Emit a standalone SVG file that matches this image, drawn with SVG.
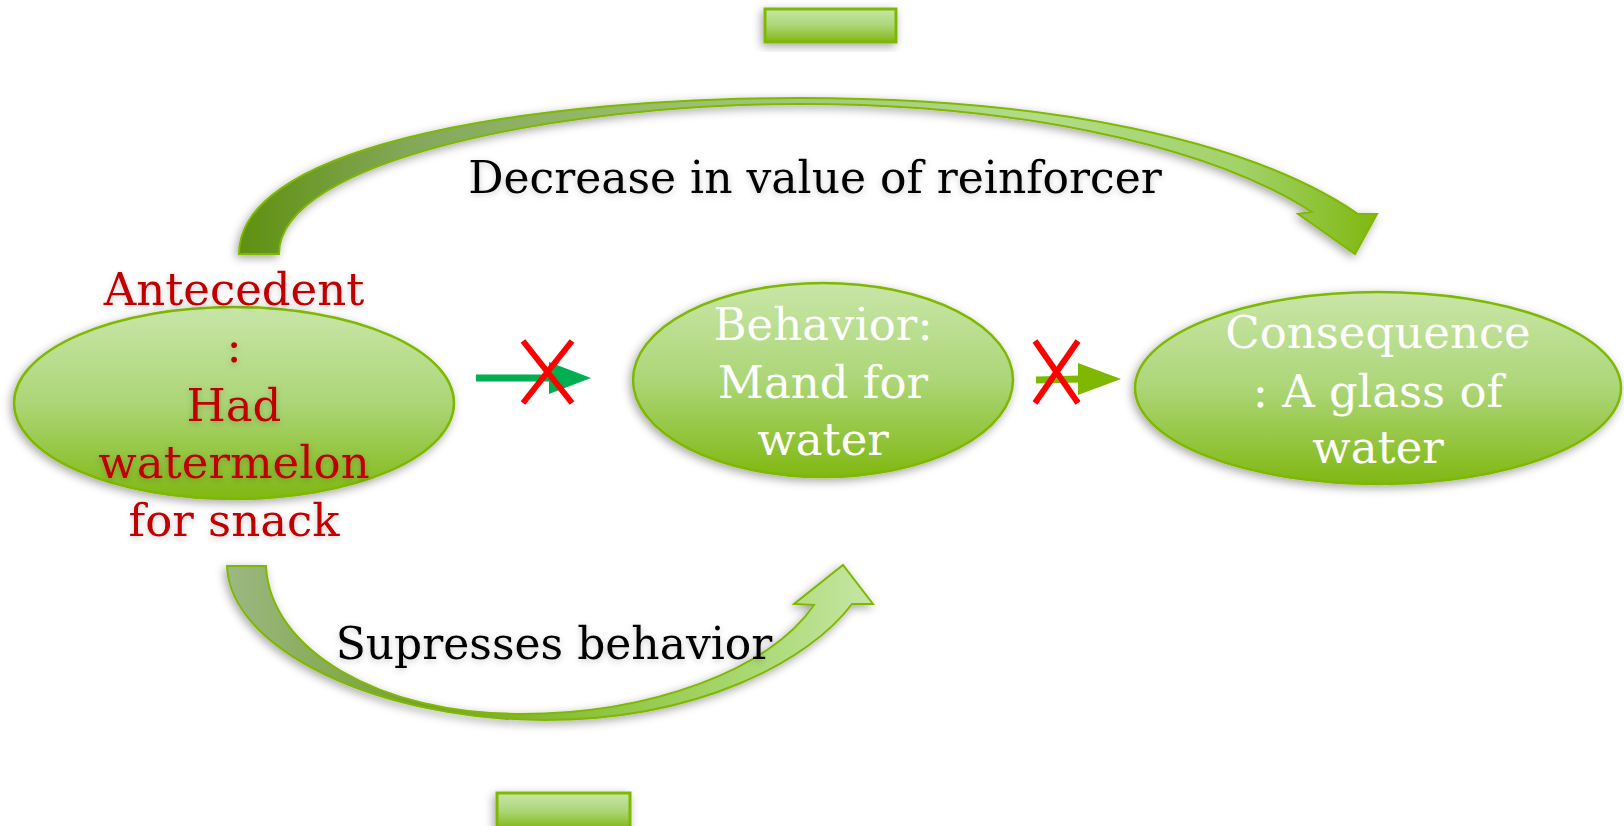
<svg xmlns="http://www.w3.org/2000/svg" width="1624" height="826" viewBox="0 0 1624 826">
<defs>
  <linearGradient id="gNode" x1="0" y1="0" x2="0" y2="1">
    <stop offset="0" stop-color="#c8e6a8"/>
    <stop offset="0.5" stop-color="#acd677"/>
    <stop offset="1" stop-color="#80b812"/>
  </linearGradient>
  <linearGradient id="gTop" gradientUnits="userSpaceOnUse" x1="239" y1="254" x2="1377" y2="254">
    <stop offset="0" stop-color="#5f9010"/>
    <stop offset="0.15" stop-color="#84a85a"/>
    <stop offset="0.35" stop-color="#96bc6c"/>
    <stop offset="0.7" stop-color="#b3dc8a"/>
    <stop offset="0.88" stop-color="#a2d26a"/>
    <stop offset="1" stop-color="#80b810"/>
  </linearGradient>
  <linearGradient id="gBot" gradientUnits="userSpaceOnUse" x1="227" y1="566" x2="873" y2="566">
    <stop offset="0" stop-color="#9cb884"/>
    <stop offset="0.3" stop-color="#74a02c"/>
    <stop offset="0.55" stop-color="#8cc23c"/>
    <stop offset="0.8" stop-color="#a8d870"/>
    <stop offset="1" stop-color="#c6e6a4"/>
  </linearGradient>
  <filter id="sh" x="-20%" y="-20%" width="140%" height="150%">
    <feDropShadow dx="-2" dy="3" stdDeviation="5" flood-color="#000" flood-opacity="0.35"/>
  </filter>
  <filter id="tsh" x="-10%" y="-30%" width="120%" height="160%">
    <feDropShadow dx="0" dy="2" stdDeviation="3" flood-color="#000" flood-opacity="0.2"/>
  </filter>
</defs>
<style>
  .node { fill: url(#gNode); stroke: #7fb800; stroke-width: 2.5; filter: url(#sh); }
  .box { fill: url(#gNode); stroke: #7fb800; stroke-width: 3; filter: url(#sh); }
  .t { font-family: "DejaVu Serif", "Liberation Serif", serif; font-size: 45px; text-anchor: middle; }
  .red { fill: #c00000; filter: url(#tsh); }
  .wht { fill: #ffffff; }
  .lbl { font-family: "DejaVu Serif", "Liberation Serif", serif; font-size: 44px; text-anchor: middle; fill: #000000; filter: url(#tsh); }
  .curve { stroke: #7fb800; stroke-width: 2; filter: url(#sh); }
  .x { stroke: #ff0000; stroke-width: 6; fill: none; }
</style>

<g id="connectors">
  <path class="curve" fill="url(#gTop)" d="M239,254 C239,140 550,98 800,98 C1050,98 1250,140 1358,214 L1377,214 L1355,254 L1298,214 L1312,212 C1200,140 1000,104 800,104 C560,104 279,160 279,254 Z"/>
  <path class="curve" fill="url(#gBot)" d="M227,566 C230,650 380,720 544,720 C700,720 810,660 852,604 L873,604 L843,565 L794,604 L814,605 C770,670 650,714 520,714 C380,714 270,650 266,566 Z"/>
  <text class="lbl" x="815" y="193">Decrease in value of reinforcer</text>
  <text class="lbl" x="554" y="659">Supresses behavior</text>
  <g id="arrow-ab">
    <line x1="476" y1="378" x2="552" y2="378" stroke="#00b050" stroke-width="7"/>
    <polygon points="549,362 591,378 549,394" fill="#00b050"/>
    <line class="x" x1="523" y1="341" x2="572" y2="403"/>
    <line class="x" x1="572" y1="341" x2="523" y2="403"/>
  </g>
  <g id="arrow-bc">
    <line x1="1036" y1="380" x2="1081" y2="379" stroke="#7fb800" stroke-width="7"/>
    <polygon points="1078,363 1121,379 1078,395" fill="#7fb800"/>
    <line class="x" x1="1035" y1="341" x2="1078" y2="403"/>
    <line class="x" x1="1078" y1="341" x2="1035" y2="403"/>
  </g>
</g>

<g id="box-top">
  <rect class="box" x="765" y="9" width="131" height="33"/>
</g>
<g id="box-bottom">
  <rect class="box" x="497" y="793" width="133" height="36"/>
</g>

<g id="node-antecedent">
  <ellipse class="node" cx="234" cy="403" rx="220" ry="96"/>
  <text class="t red" x="234" y="305">Antecedent</text>
  <text class="t red" x="234" y="362">:</text>
  <text class="t red" x="234" y="421">Had</text>
  <text class="t red" x="234" y="478">watermelon</text>
  <text class="t red" x="234" y="536">for snack</text>
</g>

<g id="node-behavior">
  <ellipse class="node" cx="823" cy="380" rx="190" ry="97"/>
  <text class="t wht" x="823" y="340">Behavior:</text>
  <text class="t wht" x="823" y="398">Mand for</text>
  <text class="t wht" x="823" y="455">water</text>
</g>

<g id="node-consequence">
  <ellipse class="node" cx="1378" cy="388" rx="243" ry="96"/>
  <text class="t wht" x="1378" y="348">Consequence</text>
  <text class="t wht" x="1378" y="407">: A glass of</text>
  <text class="t wht" x="1378" y="463">water</text>
</g>
</svg>
